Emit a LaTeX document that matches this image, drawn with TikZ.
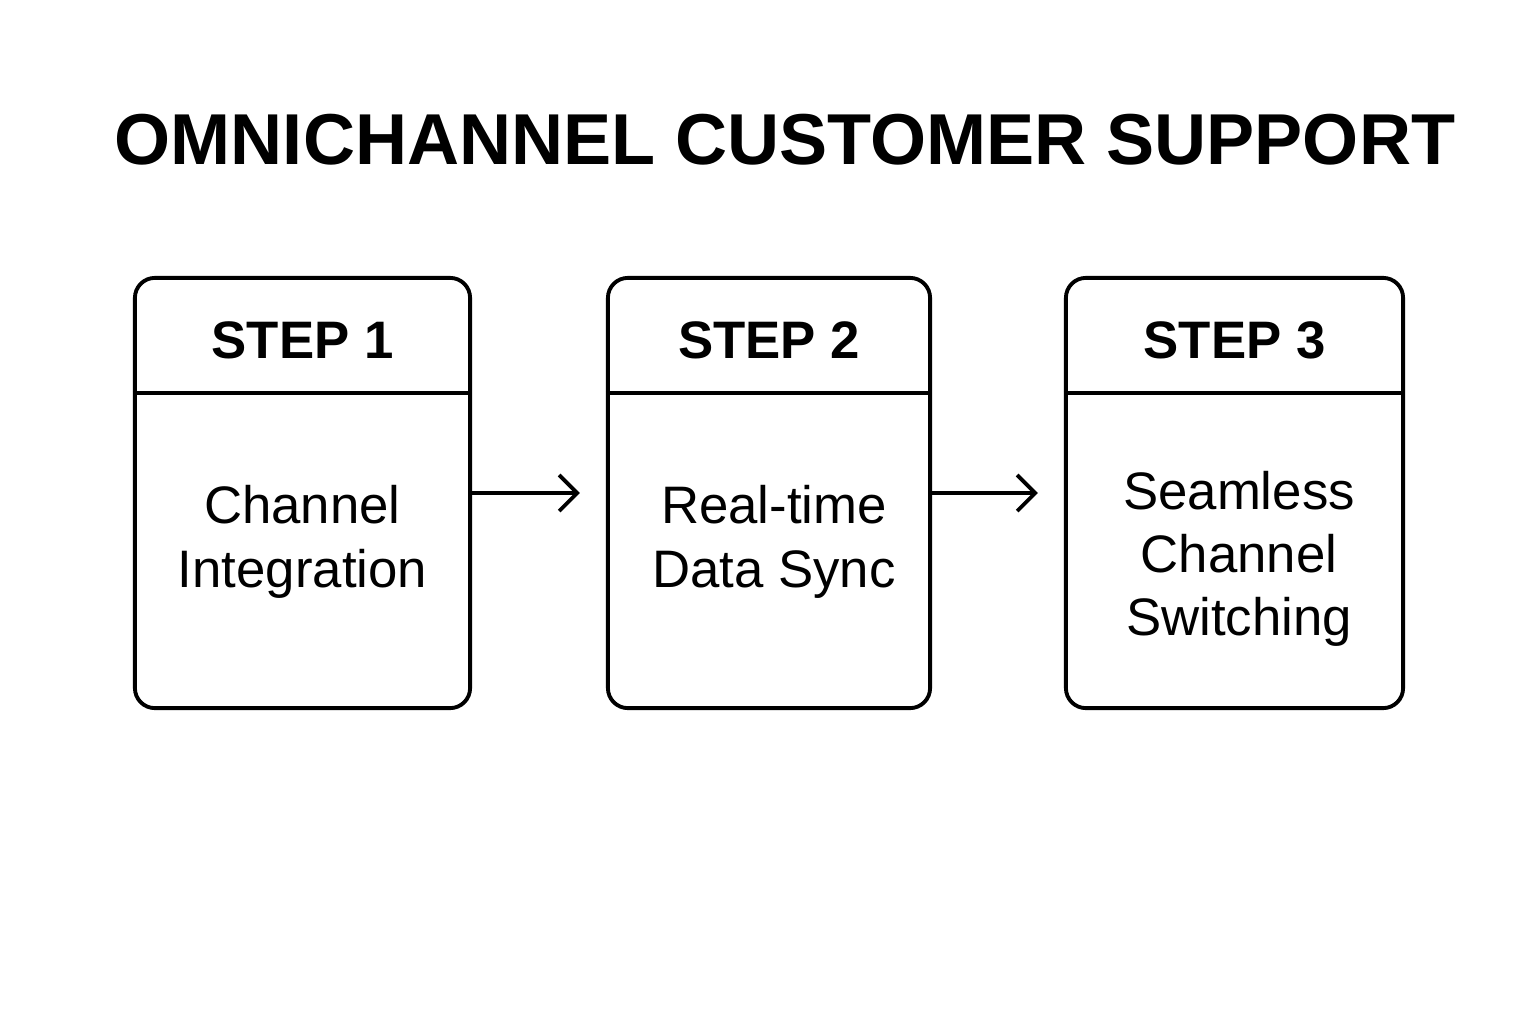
\documentclass[tikz,border=0pt]{standalone}
\usepackage{fontspec}
\setmainfont{Liberation Sans}
\usetikzlibrary{arrows.meta,positioning}
\begin{document}
\begin{tikzpicture}%
	[	x=0.01cm, y=-0.01cm,
	box/.style={draw=black, line width=1.1pt, rounded corners=0.2cm, inner sep=0pt, minimum height=4.3cm},
	head/.style={font=\fontsize{15}{18}\selectfont\bfseries},
	body/.style={font=\fontsize{15}{18}\selectfont, align=center},
	flow/.style={line width=1.1pt, -{Straight Barb[length=0.18cm,width=0.36cm,line width=1.1pt]}, shorten >=0.26cm}]

\useasboundingbox (0,0) rectangle (1536,1024);

\node[font=\fontsize{20.5}{24}\selectfont\bfseries] (title) at (785,140) {OMNICHANNEL CUSTOMER SUPPORT};

\node[box, minimum width=3.35cm] (box1) at (302.5,493) {};
\node[box, minimum width=3.22cm] (box2) at (769,493) {};
\node[box, minimum width=3.37cm] (box3) at (1234.5,493) {};

\foreach \b/\n in {box1/1, box2/2, box3/3} {
  \draw[line width=1.1pt] ([yshift=-1.17cm]\b.north west) -- ([yshift=-1.17cm]\b.north east);
  \node[head] (head\n) at ([yshift=-0.64cm]\b.north) {STEP \n};
}

\node[body] (text1) at (302.5,542) {Channel\\Integration};
\node[body] (text2) at (774,542) {Real-time\\Data Sync};
\node[body] (text3) at (1239,559) {Seamless\\Channel\\Switching};

\draw[flow] (box1.east) -- (box2.west);
\draw[flow] (box2.east) -- (box3.west);
\end{tikzpicture}
\end{document}
